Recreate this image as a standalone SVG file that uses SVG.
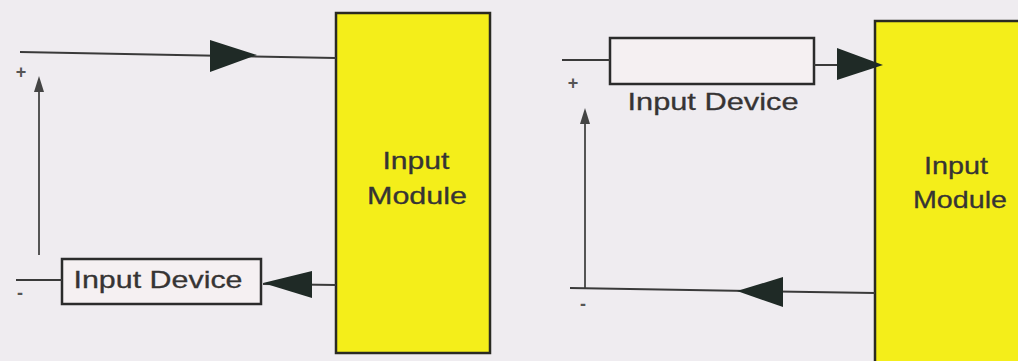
<svg xmlns="http://www.w3.org/2000/svg" width="1018" height="361" viewBox="0 0 1018 361">
<style>
.bg{fill:#efecf0}
.mod{fill:#f4ee1a;stroke:#2a2a22;stroke-width:2.5}
.dev{fill:#f5f0f2;stroke:#2b2b2b;stroke-width:2.5}
.wire{fill:none;stroke:#3a3a3a;stroke-width:2}
.vwire{fill:none;stroke:#555;stroke-width:2}
.head{fill:#1f2a26}
.vhead{fill:#444}
.t{font-family:"Liberation Sans",Arial,sans-serif;font-size:24px;fill:#363434;stroke:#363434;stroke-width:0.3}
.sign{font-family:"Liberation Sans",Arial,sans-serif;font-size:18px;font-weight:bold;fill:#555}
</style>
<rect class="bg" x="0" y="0" width="1018" height="361"/>

<g id="left-module">
<rect class="mod" x="336" y="13" width="154" height="340"/>
<text class="t" x="416" y="169" text-anchor="middle" textLength="67" lengthAdjust="spacingAndGlyphs">Input</text>
<text class="t" x="417" y="204" text-anchor="middle" textLength="100" lengthAdjust="spacingAndGlyphs">Module</text>
</g>

<g id="left-device">
<rect class="dev" x="62" y="259" width="199" height="45"/>
<text class="t" x="158" y="288" text-anchor="middle" textLength="169" lengthAdjust="spacingAndGlyphs">Input Device</text>
</g>

<g id="right-module">
<rect class="mod" x="875" y="21" width="160" height="350"/>
<text class="t" x="956" y="174" text-anchor="middle" textLength="64" lengthAdjust="spacingAndGlyphs">Input</text>
<text class="t" x="960" y="208" text-anchor="middle" textLength="94" lengthAdjust="spacingAndGlyphs">Module</text>
</g>

<g id="right-device">
<rect class="dev" x="610" y="38" width="204" height="46"/>
<text class="t" x="713" y="110" text-anchor="middle" textLength="171" lengthAdjust="spacingAndGlyphs">Input Device</text>
</g>

<g id="connectors">
<!-- left diagram -->
<path class="wire" d="M20 52 L336 58"/>
<path class="head" d="M210 40 L257 55 L210 72 Z"/>
<path class="vwire" d="M39 255 L39 88"/>
<path class="vhead" d="M39 76 L44 92 L34 92 Z"/>
<path class="wire" d="M16 280 L62 280"/>
<path class="wire" d="M263 284 L336 285"/>
<path class="head" d="M263 283 L312 271 L312 298 Z"/>
<!-- right diagram -->
<path class="wire" d="M562 60 L610 60"/>
<path class="wire" d="M814 65 L875 65"/>
<path class="head" d="M837 48 L883 65 L837 80 Z"/>
<path class="vwire" d="M585 288 L585 120"/>
<path class="vhead" d="M585 108 L590 124 L580 124 Z"/>
<path class="wire" d="M570 288 L875 293"/>
<path class="head" d="M737 291 L783 277 L783 307 Z"/>
</g>

<g id="signs">
<text class="sign" x="21" y="78" text-anchor="middle">+</text>
<text class="sign" x="20" y="299" text-anchor="middle">-</text>
<text class="sign" x="573" y="89" text-anchor="middle">+</text>
<text class="sign" x="583" y="310" text-anchor="middle">-</text>
</g>
</svg>
